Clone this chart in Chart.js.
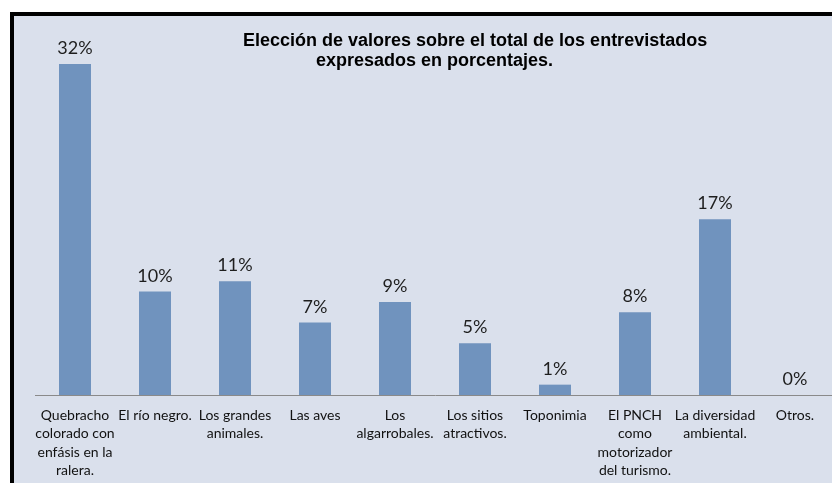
<!DOCTYPE html>
<html>
<head>
<meta charset="utf-8">
<script src="https://cdn.jsdelivr.net/npm/chart.js@4.4.0/dist/chart.umd.min.js"></script>
<style>
  html, body { margin: 0; padding: 0; background: #fff; overflow: hidden; width: 832px; height: 483px; }
  #frame {
    position: absolute; left: 10px; top: 12px;
    width: 840px; height: 480px;
    border-top: 4px solid #000; border-left: 4px solid #000;
    background: #dae0ec;
  }
  #myChart { position: absolute; left: 0; top: 0; }
  .title {
    position: absolute; white-space: nowrap;
    font-family: 'Liberation Sans', Arial, sans-serif; font-weight: bold;
    font-size: 18px; line-height: 20px; color: #000;
  }
</style>
</head>
<body>
<div id="frame">
  <canvas id="myChart" width="821" height="467" style="width:821px;height:467px"></canvas>
  <div class="title" style="left:229px; top:14px;">Elección de valores sobre el total de los entrevistados</div>
  <div class="title" style="left:302px; top:34px;">expresados en porcentajes.</div>
</div>
<script>
const categories = [
    ['Quebracho', 'colorado con', 'enfásis en la', 'ralera.'],
    ['El río negro.'],
    ['Los grandes', 'animales.'],
    ['Las aves'],
    ['Los', 'algarrobales.'],
    ['Los sitios', 'atractivos.'],
    ['Toponimia'],
    ['El PNCH', 'como', 'motorizador', 'del turismo.'],
    ['La diversidad', 'ambiental.'],
    ['Otros.']
];
const values = [32, 10, 11, 7, 9, 5, 1, 8, 17, 0];
const valueLabels = ['32%', '10%', '11%', '7%', '9%', '5%', '1%', '8%', '17%', '0%'];

const ctx = document.getElementById('myChart').getContext('2d');

const config = {
    type: 'bar',
    data: {
        labels: categories,
        datasets: [{
            data: values,
            backgroundColor: '#7093be',
            borderWidth: 0,
            categoryPercentage: 0.8,
            barPercentage: 0.5
        }]
    },
    options: {
        responsive: false,
        animation: false,
        devicePixelRatio: 1,
        layout: {
            padding: { left: 21, right: 0, top: 17, bottom: 0 }
        },
        scales: {
            x: {
                grid: { display: false, drawTicks: false },
                border: { display: true, color: '#8a8a8a', width: 1 },
                ticks: {
                    color: '#111',
                    font: { family: 'Lato', size: 14, lineHeight: 1.32 },
                    padding: 11,
                    maxRotation: 0,
                    minRotation: 0,
                    autoSkip: false
                },
                afterFit(scale) {
                    scale.height = 88;
                }
            },
            y: {
                display: false,
                min: 0,
                max: 35
            }
        },
        plugins: {
            legend: { display: false },
            tooltip: { enabled: false }
        }
    },
    plugins: [{
        afterDatasetsDraw(chart) {
            const { ctx } = chart;
            ctx.save();
            ctx.font = '18px Lato';
            ctx.textAlign = 'center';
            ctx.textBaseline = 'alphabetic';
            ctx.fillStyle = '#1e1e1e';
            const meta = chart.getDatasetMeta(0);
            meta.data.forEach((bar, i) => {
                ctx.fillText(valueLabels[i], bar.x, bar.y - 10);
            });
            ctx.restore();
        }
    }]
};

const myChart = new Chart(ctx, config);
</script>
</body>
</html>
